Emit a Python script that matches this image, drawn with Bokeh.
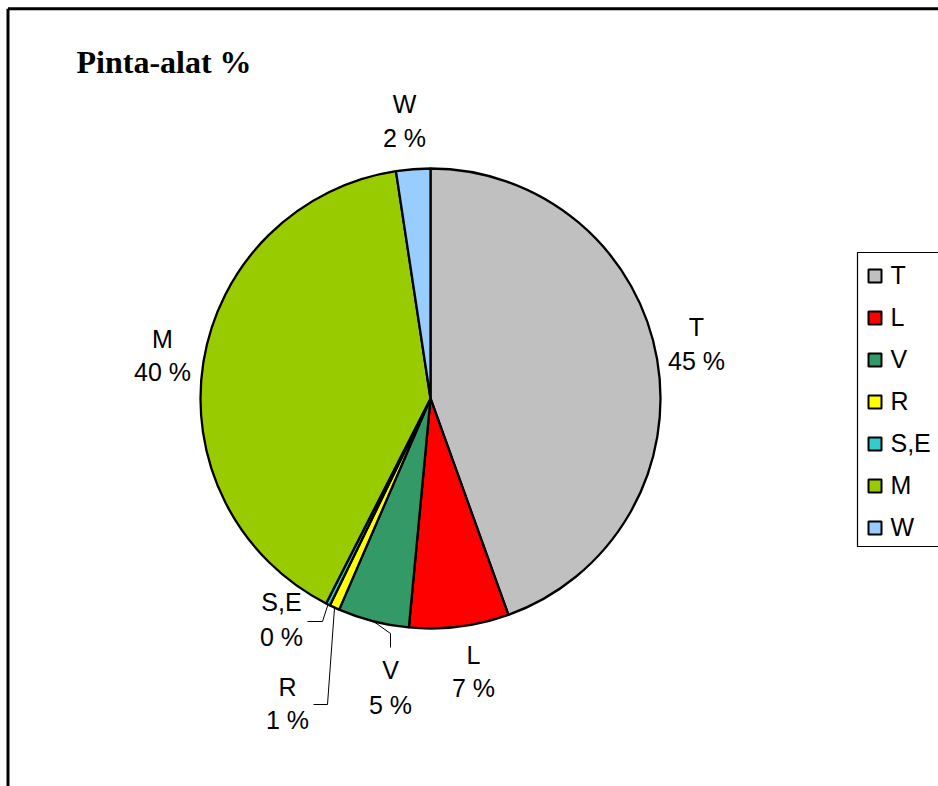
from bokeh.plotting import figure
from bokeh.models import Range1d, ColumnDataSource
from bokeh.core.properties import value
from bokeh.embed import file_html
from bokeh.resources import INLINE
import math

# ---- data ----
categories = ["T", "L", "V", "R", "S,E", "M", "W"]
shares = [44.5, 7.0, 5.0, 0.7, 0.3, 40.1, 2.4]
colors = ["#C0C0C0", "#FF0000", "#339966", "#FFFF00", "#33CCCC", "#99CC00", "#99CCFF"]
title_text = "Pinta-alat %"

# ---- layout (pixel positions, y measured from top) ----
W, H = 938, 786
def X(rx):
    return rx
def Y(ry):
    return H - ry

TXT_SHIFT = 9      # correction for where the SVG backend puts the baseline
TITLE_SHIFT = 12

cx, cy, R = 430, 398, 230
label_pos = {  # centre x, name baseline y, percent baseline y
    "T": (696, 335, 369),
    "L": (473, 663, 696),
    "V": (390, 678, 713),
    "R": (287, 695, 728),
    "S,E": (281, 610, 645),
    "M": (162, 347, 380),
    "W": (404, 112, 146),
}
leader_elbows = {
    "S,E": [(322, 621), (307, 621)],
    "R": [(327, 704), (313, 704)],
    "V": [(390, 633), (390, 647)],
}

p = figure(width=W, height=H, x_range=Range1d(0, W), y_range=Range1d(0, H),
           output_backend="svg", toolbar_location=None,
           x_axis_type=None, y_axis_type=None, min_border=0)
p.outline_line_color = None
p.background_fill_color = "white"
p.border_fill_color = "white"

# ---- pie ----
total = sum(shares)
cum = 0.0
starts, ends, mids = [], [], []
for v in shares:
    a0 = cum / total
    cum += v
    a1 = cum / total
    starts.append(math.pi / 2 - 2 * math.pi * a1)
    ends.append(math.pi / 2 - 2 * math.pi * a0)
    mids.append((a0 + a1) / 2)

src = ColumnDataSource(dict(cat=categories, start=starts, end=ends, color=colors))
p.wedge(x=X(cx), y=Y(cy), radius=R, start_angle="start", end_angle="end",
        direction="anticlock", fill_color="color", line_color="black",
        line_width=2.3, source=src)

# ---- labels ----
font = value("Liberation Sans")
for cat, v, m in zip(categories, shares, mids):
    lx, ly1, ly2 = label_pos[cat]
    p.text(x=[X(lx)], y=[Y(ly1 - TXT_SHIFT)], text=[cat], text_font=font,
           text_font_size="25px", text_align="center",
           text_baseline="alphabetic", text_color="black")
    p.text(x=[X(lx)], y=[Y(ly2 - TXT_SHIFT)], text=[f"{int(v + 0.5)} %"], text_font=font,
           text_font_size="25px", text_align="center",
           text_baseline="alphabetic", text_color="black")
    if cat in leader_elbows:
        ang = 2 * math.pi * m
        rx = cx + R * math.sin(ang)
        ry = cy - R * math.cos(ang)
        pts = [(rx, ry)] + leader_elbows[cat]
        p.line(x=[X(a) for a, b in pts], y=[Y(b) for a, b in pts],
               line_color="#000000", line_width=1)

# ---- title ----
p.text(x=[X(76)], y=[Y(73 - TITLE_SHIFT)], text=[title_text], text_font=value("Liberation Serif"),
       text_font_style="bold", text_font_size="32px", text_align="left",
       text_baseline="alphabetic", text_color="black")

# ---- legend (drawn manually, Excel style) ----
p.quad(left=[X(857)], right=[X(980)], top=[Y(252)], bottom=[Y(546)],
       fill_color="white", line_color="#000000", line_width=1.2)
for i, (cat, col) in enumerate(zip(categories, colors)):
    base = 283 + 42 * i
    p.rect(x=[X(874.5)], y=[Y(base - 7.5)], width=13, height=13,
           fill_color=col, line_color="black", line_width=2)
    p.text(x=[X(890)], y=[Y(base - TXT_SHIFT)], text=[cat], text_font=font,
           text_font_size="25px", text_align="left",
           text_baseline="alphabetic", text_color="black")

# ---- chart-area border (top and left edges visible) ----
p.segment(x0=[7.5], y0=[Y(8.3)], x1=[W + 10], y1=[Y(8.3)], line_color="black", line_width=3)
p.segment(x0=[7.5], y0=[Y(8.3)], x1=[7.5], y1=[-10], line_color="black", line_width=3)

open("out.html", "w").write(file_html(p, INLINE))
